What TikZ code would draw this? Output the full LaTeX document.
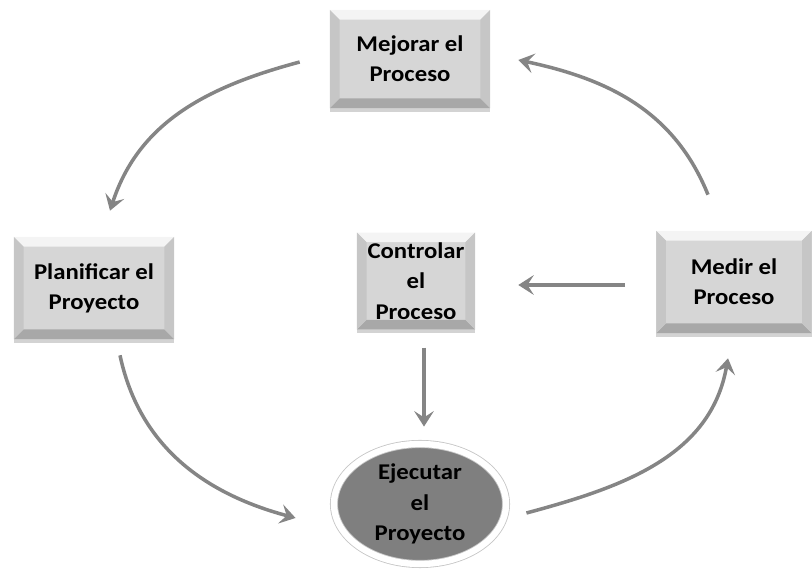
\documentclass[tikz,border=0pt]{standalone}
\usepackage{fontspec}
\setmainfont{Carlito}[FakeStretch=1.1]
\usetikzlibrary{shapes,arrows.meta,positioning,calc,shadows}
\definecolor{pcface}{HTML}{D6D6D6}
\definecolor{pctop}{HTML}{F4F4F4}
\definecolor{pcside}{HTML}{C6C6C6}
\definecolor{pcbottom}{HTML}{A8A8A8}
\definecolor{pcarrow}{HTML}{858585}
\definecolor{pcdark}{HTML}{7F7F7F}
\newcommand{\bev}{0.24cm}

\begin{document}
\begin{tikzpicture}[
    x=0.025cm, y=0.025cm,
    every node/.style={align=center, font=\bfseries\fontsize{16}{21.5}\selectfont},
    bevel/.style={fill=pcface, inner sep=0pt,
        drop shadow={shadow xshift=0pt, shadow yshift=-2.5pt, opacity=0.35},
        path picture={
            \fill[pctop] (path picture bounding box.north west) -- (path picture bounding box.north east)
                -- ([shift={(-\bev,-\bev)}]path picture bounding box.north east)
                -- ([shift={(\bev,-\bev)}]path picture bounding box.north west) -- cycle;
            \fill[pcbottom] (path picture bounding box.south west) -- (path picture bounding box.south east)
                -- ([shift={(-\bev,\bev)}]path picture bounding box.south east)
                -- ([shift={(\bev,\bev)}]path picture bounding box.south west) -- cycle;
            \fill[pcside] (path picture bounding box.north west) -- (path picture bounding box.south west)
                -- ([shift={(\bev,\bev)}]path picture bounding box.south west)
                -- ([shift={(\bev,-\bev)}]path picture bounding box.north west) -- cycle;
            \fill[pcside] (path picture bounding box.north east) -- (path picture bounding box.south east)
                -- ([shift={(-\bev,\bev)}]path picture bounding box.south east)
                -- ([shift={(-\bev,-\bev)}]path picture bounding box.north east) -- cycle;
        }},
    oval/.style={ellipse, fill=pcdark, inner sep=0pt, minimum width=4.3cm, minimum height=3cm,
        draw=gray!45, line width=0.6pt, double=white, double distance=4.5pt,
        drop shadow={shadow xshift=0pt, shadow yshift=-2pt, opacity=0.3}},
    arrow/.style={-{Stealth[length=11pt, width=14pt, inset=4.5pt]}, line width=2.5pt, pcarrow}
]
    \useasboundingbox (0,0) rectangle (812,573);

    \node[bevel, minimum width=4cm, minimum height=2.45cm] (mejorar) at (410,514) {Mejorar el\\Proceso};
    \node[bevel, minimum width=4cm, minimum height=2.55cm] (planificar) at (94,285) {Planificar el\\Proyecto};
    \node[bevel, minimum width=2.95cm, minimum height=2.42cm] (controlar) at (416,292) {Controlar\\el\\Proceso};
    \node[bevel, minimum width=3.88cm, minimum height=2.55cm] (medir) at (734,291) {Medir el\\Proceso};
    \node[oval] (ejecutar) at (420,69) {Ejecutar\\el\\Proyecto};

    % ciclo exterior
    \draw[arrow] ($(mejorar.west)+(-30,-3)$) to[out=195, in=72] ($(planificar.north)+(16,26)$);
    \draw[arrow] ($(planificar.south)+(26,-16)$) to[out=-78, in=165] ($(ejecutar.west)+(-38,-14)$);
    \draw[arrow] ($(ejecutar.east)+(20,-9)$) to[out=15, in=-100] ($(medir.south)+(-6,-25)$);
    \draw[arrow] ($(medir.north)+(-26,36)$) to[out=112, in=-12] ($(mejorar.east)+(28,-1)$);

    % control
    \draw[arrow] ($(medir.west)+(-31,-3)$) -- ($(controlar.east)+(43,-4)$);
    \draw[arrow] ($(controlar.south)+(8,-18)$) -- ($(ejecutar.north)+(4,17)$);
\end{tikzpicture}
\end{document}
